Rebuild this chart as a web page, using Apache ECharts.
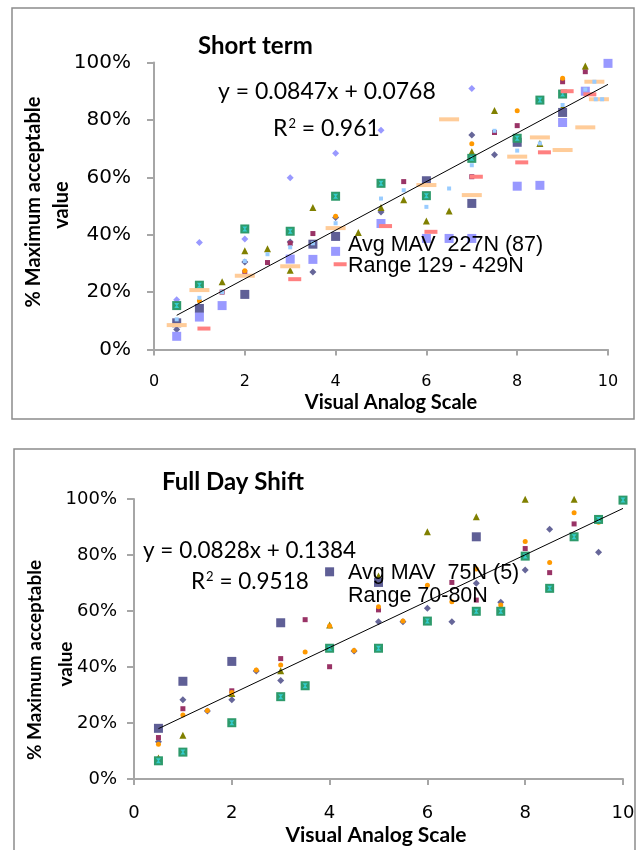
<!DOCTYPE html>
<html><head><meta charset="utf-8">
<script src="https://cdn.jsdelivr.net/npm/echarts@6/dist/echarts.min.js"></script>
<style>html,body{margin:0;padding:0;background:#fff}#c{width:639px;height:850px}</style>
</head><body><div id="c"></div>
<script>
// ---------- Short term chart data (x = VAS, y = % of max acceptable) ----------
const stDarkDiamond = [[0.5,7],[2,30.5],[3,37.5],[3.5,27],[4,46],[5,47.9],[7,74.7],[7.5,67.9]];
const stMagenta = [[1.5,20],[2,26.8],[2.5,30.3],[3,37],[3.5,40.4],[5.5,58.5],[7,60.2],[7.5,75.6],[8,78],[9,93.3],[9.5,96.8]];
const stOlive = [[1.5,23.6],[2,34.4],[2.5,35.1],[3,27.6],[3.5,49.5],[4.5,40.8],[5,49.5],[5.5,52.2],[6,44.8],[6.5,48.3],[7,68.9],[7.5,83.3],[8.5,71.8],[9,84.5],[9.5,98.8]];
const stLightBlue = [[0.5,10.5],[1,18],[1.5,20],[2,30.8],[2.5,33.2],[3,35.6],[3.5,37],[4,44],[5,52.6],[5.5,55.5],[6,49.7],[6.5,56.1],[7,64.2],[7.5,76.2],[8,69.3],[8.5,71.8],[9,85.2],[9.5,90.6],[9.2,100.3],[9.7,93.3],[9.73,87.2],[9.87,87.2],[10,100.3]];
const stOrange = [[0.5,9],[1,17],[2,27.4],[4,46.4],[5,57.4],[7,71.7],[8,83.2],[9,94.5]];
const stLavDiamond = [[0.5,17.3],[1,37.3],[2,38.5],[3,59.8],[4,68.4],[5,76.4],[7,90.9]];
const stDarkSquare = [[0.5,9.3],[1,14.3],[2,19.2],[3.5,36.7],[4,39.4],[6,58.8],[7,50.9],[8,72.2],[9,82.6]];
const stGreen = [[0.5,15.3],[1,22.4],[2,42],[3,41.2],[4,53.4],[5,57.9],[6,53.6],[7,66.6],[8,73.6],[8.5,86.9],[9,89]];
const stLavSquare = [[0.5,4.6],[1,11.3],[1.5,15.3],[3,31.5],[3.5,31.4],[4,34.2],[5,43.9],[6,38.7],[6.5,38.7],[7,38.7],[8,56.9],[8.5,57.2],[9,79.1],[9.5,90],[10,99.7]];
const stPeach = [[0.5,8.5],[1,20.7],[2,25.7],[3,29],[4,42.3],[6,57.3],[6.5,80.2],[7,53.8],[8,67.2],[8.5,73.9],[9,69.5],[9.5,77.4],[9.2,100.3],[9.7,93.3],[9.8,87.2],[10,100.3]];
const stSalmon = [[1.1,7.3],[3.1,24.5],[4.1,29.7],[5.1,43],[6.1,41],[7.1,60.2],[8.1,65.2],[8.6,68.7],[9.1,90],[9.6,88.9]];
const stTrend = {slope: 0.0847, intercept: 0.0768, r2: '0.961', from: 0.5, to: 10};

// ---------- Full day shift chart data ----------
const fdDarkDiamond = [[0.5,13.3],[1,28.3],[1.5,24.3],[2,28.3],[2.5,38.6],[3,35.2],[4.5,45.7],[5,56.2],[5.5,56.2],[6,61],[6.5,56.2],[7,69.9],[7.5,63.1],[8,74.6],[8.5,89.2],[9.5,81]];
const fdMagenta = [[0.5,14.8],[1,25.1],[2,31.5],[3,43],[3.5,56.9],[4,40.1],[5,60.4],[6.5,70.2],[7,63.9],[8,82.3],[8.5,73.7],[9,91.1],[9.5,100.2]];
const fdOlive = [[0.5,7.5],[1,15.6],[2,30.5],[3,38.7],[4,55],[5,72.5],[6,88.3],[7,93.7],[8,99.9],[9,99.9]];
const fdOrange = [[0.5,12.4],[1,22.9],[1.5,24.5],[2,30.9],[2.5,38.9],[3,40.7],[3.5,45.4],[4,54.6],[4.5,45.9],[5,61.5],[5.5,56.4],[6,69.2],[6.5,63.3],[7,75],[7.5,62.1],[8,84.8],[8.5,77.3],[9,95.1],[9.5,91.7],[10,100]];
const fdDarkSquare = [[0.5,18.1],[1,34.9],[2,42],[3,55.8],[4,74],[5,70.2],[7,86.5]];
const fdGreen = [[0.5,6.5],[1,9.6],[2,20.1],[3,29.4],[3.5,33.3],[4,46.7],[5,46.7],[6,56.4],[7,59.9],[7.5,59.9],[8,79.6],[8.5,68.1],[9,86.5],[9.5,92.7],[10,99.6]];
const fdTrend = {slope: 0.0828, intercept: 0.1384, r2: '0.9518', from: 0.5, to: 10};

// ---------- styling ----------
const C = {
  darkDiamond:'#666699', magenta:'#993366', olive:'#808000', lightBlue:'#99CCFF',
  orange:'#FF9900', lavender:'#9999FF', darkSquare:'#5F5F96', green:'#2E9A6B',
  cyan:'#33CCCC', peach:'#FFCC99', salmon:'#FF8080', axis:'#A6A6A6'
};
const HOURGLASS = 'path://M0,0 L10,0 L6,5 L10,10 L0,10 L4,5 Z';
const TICKFONT = 'DejaVu Sans';

function sc(data, gi, symbol, size, color, z) {
  return {type:'scatter', xAxisIndex:gi, yAxisIndex:gi, data:data, symbol:symbol,
          symbolSize:size, itemStyle:{color:color, opacity:1}, z:z||2, silent:true, animation:false};
}
function trend(t, gi) {
  const y = x => (t.slope * x + t.intercept) * 100;
  return {type:'line', xAxisIndex:gi, yAxisIndex:gi, data:[[t.from, y(t.from)],[t.to, y(t.to)]],
          symbol:'none', lineStyle:{color:'#000', width:1}, z:20, silent:true, animation:false};
}
function xAx(gi, fs, margin) {
  return {type:'value', gridIndex:gi, min:0, max:10, interval:2,
    axisLine:{show:true, onZero:false, lineStyle:{color:C.axis, width:2}},
    axisTick:{show:true, length:6, lineStyle:{color:C.axis, width:2}},
    splitLine:{show:false},
    axisLabel:{color:'#000', fontFamily:TICKFONT, fontSize:fs, margin:margin}};
}
function yAx(gi, fs, margin) {
  return {type:'value', gridIndex:gi, min:0, max:100, interval:20,
    axisLine:{show:true, lineStyle:{color:C.axis, width:2}},
    axisTick:{show:true, length:7, lineStyle:{color:C.axis, width:2}},
    splitLine:{show:false},
    axisLabel:{color:'#000', fontFamily:TICKFONT, fontSize:fs, margin:margin, formatter:'{value}%'}};
}
function txt(x, y, text, font, align, rot) {
  const o = {type:'text', x:x, y:y, z:100, silent:true,
    style:{text:text, font:font, fill:'#000', textAlign:align||'left', textVerticalAlign:'middle'}};
  if (rot) o.rotation = rot;
  return o;
}
function r2(x, y, val, size) {
  return {type:'text', x:x, y:y, z:100, silent:true,
    style:{rich:{a:{font:size+'px Lato', fill:'#000'}, s:{font:'13px Lato', fill:'#000', verticalAlign:'top', padding:[0,0,11,1]}},
    text:'{a|R}{s|2}{a| = ' + val + '}', textVerticalAlign:'middle'}};
}

const chart = echarts.init(document.getElementById('c'), null, {renderer:'canvas'});
chart.setOption({
  backgroundColor:'#fff',
  animation:false,
  grid:[
    {left:154, top:62.5, width:454, height:287},
    {left:134, top:499, width:489, height:280}
  ],
  xAxis:[xAx(0, 16, 24), xAx(1, 18, 25)],
  yAxis:[yAx(0, 20, 23), yAx(1, 18, 17)],
  series:[
    sc(stDarkDiamond,0,'diamond',7,C.darkDiamond,2),
    sc(stMagenta,0,'rect',5,C.magenta,3),
    sc(stOlive,0,'triangle',7,C.olive,4),
    sc(stOrange,0,'circle',5,C.orange,5),
    sc(stLavDiamond,0,'diamond',7,C.lavender,6),
    sc(stDarkSquare,0,'rect',9,C.darkSquare,7),
    sc(stGreen,0,'rect',9,C.green,8),
    sc(stGreen,0,HOURGLASS,5,C.cyan,9),
    sc(stLavSquare,0,'rect',9,C.lavender,10),
    sc(stPeach,0,'rect',[20,4],C.peach,11),
    sc(stSalmon,0,'rect',[13,4],C.salmon,12),
    sc(stLightBlue,0,'rect',4,C.lightBlue,13),
    trend(stTrend,0),

    sc(fdDarkDiamond,1,'diamond',7,C.darkDiamond,2),
    sc(fdMagenta,1,'rect',5,C.magenta,3),
    sc(fdOlive,1,'triangle',7,C.olive,4),
    sc(fdOrange,1,'circle',5,C.orange,5),
    sc(fdDarkSquare,1,'rect',9,C.darkSquare,7),
    sc(fdGreen,1,'rect',9,C.green,8),
    sc(fdGreen,1,HOURGLASS,5,C.cyan,9),
    trend(fdTrend,1)
  ],
  graphic:[
    {type:'rect', shape:{x:12, y:8, width:622, height:411}, style:{fill:'none', stroke:'#8C8C8C', lineWidth:1.5}, silent:true},
    {type:'rect', shape:{x:14, y:449, width:621, height:420}, style:{fill:'none', stroke:'#8C8C8C', lineWidth:1.5}, silent:true},
    // Short term texts
    txt(198, 46, 'Short term', 'bold 24px Lato'),
    txt(218, 92, 'y = 0.0847x + 0.0768', '23px Lato'),
    r2(273, 129, stTrend.r2, 23),
    txt(348, 245, 'Avg MAV  227N (87)', '21.5px Liberation Sans'),
    txt(348, 266, 'Range 129 - 429N', '21.5px Liberation Sans'),
    txt(391, 403, 'Visual Analog Scale', 'bold 20px Lato', 'center'),
    txt(34, 202, '% Maximum acceptable', 'bold 20px Lato', 'center', Math.PI/2),
    txt(62, 205, 'value', 'bold 20px Lato', 'center', Math.PI/2),
    // Full day texts
    txt(162, 482, 'Full Day Shift', 'bold 24px Lato'),
    txt(143, 551, 'y = 0.0828x + 0.1384', '22.5px Lato'),
    r2(191, 582, fdTrend.r2, 22.5),
    txt(348, 573, 'Avg MAV  75N (5)', '21.5px Liberation Sans'),
    txt(348, 596, 'Range 70-80N', '21.5px Liberation Sans'),
    txt(376, 835, 'Visual Analog Scale', 'bold 21px Lato', 'center'),
    txt(35, 660, '% Maximum acceptable', 'bold 19px Lato', 'center', Math.PI/2),
    txt(66, 664, 'value', 'bold 19px Lato', 'center', Math.PI/2)
  ]
});
</script></body></html>
